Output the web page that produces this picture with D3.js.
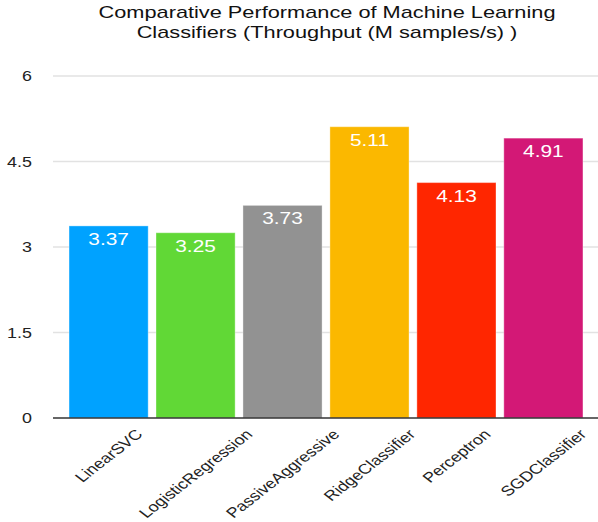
<!DOCTYPE html>
<html>
<head>
<meta charset="utf-8">
<script src="https://cdn.jsdelivr.net/npm/d3@7"></script>
<style>
  body { margin: 0; background: #fff; }
  svg { display: block; font-family: "Liberation Sans", Arial, Helvetica, sans-serif; }
</style>
</head>
<body>
<svg id="chart" width="598" height="522"></svg>
<script>
// chart data
const categories = ["LinearSVC", "LogisticRegression", "PassiveAggressive", "RidgeClassifier", "Perceptron", "SGDClassifier"];
const throughput = [3.37, 3.25, 3.73, 5.11, 4.13, 4.91];
const barColors = ["#00a2ff", "#61d836", "#929292", "#fbb800", "#ff2600", "#d31876"];
const yTicks = [0, 1.5, 3, 4.5, 6];
const titleLines = ["Comparative Performance of Machine Learning", "Classifiers (Throughput (M samples/s) )"];

// the reference text looks horizontally stretched
const stretch = 1.28;

const svg = d3.select("#chart");

const x = d3.scaleBand()
    .domain(categories)
    .range([56, 596])
    .paddingInner(0.09)
    .paddingOuter(0.15);

const y = d3.scaleLinear()
    .domain([0, 6])
    .range([418, 76]);

// title
svg.append("g")
    .selectAll("text")
    .data(titleLines)
    .join("text")
    .attr("transform", (d, i) => `translate(327,${17.5 + i * 20}) scale(${stretch},1)`)
    .attr("text-anchor", "middle")
    .attr("font-size", 17)
    .attr("fill", "#111")
    .text(d => d);

// gridlines + y labels
const grid = svg.append("g");
grid.selectAll("line")
    .data(yTicks.filter(d => d > 0))
    .join("line")
    .attr("x1", 53)
    .attr("x2", 598)
    .attr("y1", d => y(d))
    .attr("y2", d => y(d))
    .attr("stroke", "#e2e2e2")
    .attr("stroke-width", 1.5);

grid.selectAll("text")
    .data(yTicks)
    .join("text")
    .attr("transform", d => `translate(32,${y(d) + 5}) scale(${stretch},1)`)
    .attr("text-anchor", "end")
    .attr("font-size", 14)
    .attr("fill", "#222")
    .text(d => d);

// bars
const bars = svg.append("g");
bars.selectAll("rect")
    .data(throughput)
    .join("rect")
    .attr("x", (d, i) => x(categories[i]))
    .attr("y", d => y(d))
    .attr("width", x.bandwidth())
    .attr("height", d => y(0) - y(d))
    .attr("fill", (d, i) => barColors[i])
    .attr("stroke", "rgba(255,255,255,0.35)")
    .attr("stroke-width", 1);

bars.selectAll("text")
    .data(throughput)
    .join("text")
    .attr("transform", (d, i) => `translate(${x(categories[i]) + x.bandwidth() / 2},${y(d) + 19}) scale(${stretch},1)`)
    .attr("text-anchor", "middle")
    .attr("font-size", 16.3)
    .attr("fill", "#fff")
    .text(d => d.toFixed(2));

// baseline
svg.append("line")
    .attr("x1", 53)
    .attr("x2", 598)
    .attr("y1", y(0))
    .attr("y2", y(0))
    .attr("stroke", "#333")
    .attr("stroke-width", 1.5);

// x labels, rotated; top of each label sits just under the axis
const labelSize = 14;
svg.append("g")
    .selectAll("text")
    .data(categories)
    .join("text")
    .attr("text-anchor", "middle")
    .attr("dy", "0.35em")
    .attr("font-size", labelSize)
    .attr("fill", "#222")
    .text(d => d)
    .attr("transform", function(d) {
        const len = this.getComputedTextLength();
        const half = (len + labelSize * 0.75) * Math.SQRT1_2 / 2;
        return `translate(${x(d) + x.bandwidth() / 2},${428 + half}) scale(${stretch},1) rotate(-45)`;
    });
</script>
</body>
</html>
